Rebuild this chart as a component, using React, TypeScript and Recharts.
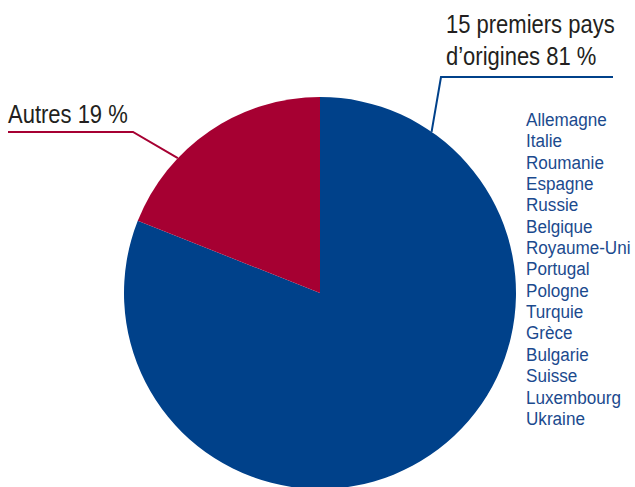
import React from "react";
import { PieChart, Pie, Cell } from "recharts";

const categories = ["15 premiers pays d\u2019origines", "Autres"];
const values = [81, 19];
const labelLines = [["15 premiers pays", "d\u2019origines 81 %"], ["Autres 19 %"]];
const countries = [
  "Allemagne", "Italie", "Roumanie", "Espagne", "Russie", "Belgique", "Royaume-Uni",
  "Portugal", "Pologne", "Turquie", "Gr\u00e8ce", "Bulgarie", "Suisse", "Luxembourg", "Ukraine",
];

const data = categories.map((name, i) => ({ name, value: values[i] }));
const COLORS = ["#00418a", "#a60032"];
const FONT = "'Liberation Sans', Arial, sans-serif";

const RAD = Math.PI / 180;

const Narrow = ({ x, y, sx, children }: any) => (
  <g transform={`translate(${x},${y}) scale(${sx},1)`}>{children}</g>
);

const renderLabel = (props: any) => {
  const { cx, cy, outerRadius, index } = props;
  if (index === 0) {
    const a = 55.3 * RAD;
    const x0 = cx + outerRadius * Math.cos(a);
    const y0 = cy - outerRadius * Math.sin(a);
    const ex = cx + 121, ey = cy - 216;
    return (
      <g>
        <polyline points={`${x0},${y0} ${ex},${ey} ${cx + 293},${ey}`} fill="none" stroke={COLORS[0]} strokeWidth={2} />
        <Narrow x={cx + 126} y={cy - 260} sx={0.88}>
          <text x={0} y={0} fontFamily={FONT} fontSize={25} fill="#231f20">
            <tspan x={0} dy={0}>{labelLines[0][0]}</tspan>
            <tspan x={0} dy={32}>{labelLines[0][1]}</tspan>
          </text>
        </Narrow>
        <Narrow x={cx + 206} y={cy - 167} sx={0.9}>
          <text x={0} y={0} fontFamily={FONT} fontSize={19} fill="#1b4a8e">
            {countries.map((c, i) => (
              <tspan key={c} x={0} dy={i === 0 ? 0 : 21.35}>{c}</tspan>
            ))}
          </text>
        </Narrow>
      </g>
    );
  }
  const a = 136.5 * RAD;
  const x0 = cx + outerRadius * Math.cos(a);
  const y0 = cy - outerRadius * Math.sin(a);
  const ex = cx - 187, ey = cy - 161;
  return (
    <g>
      <polyline points={`${x0},${y0} ${ex},${ey} ${cx - 312},${ey}`} fill="none" stroke={COLORS[1]} strokeWidth={2} />
      <Narrow x={cx - 312} y={cy - 170} sx={0.88}>
        <text x={0} y={0} fontFamily={FONT} fontSize={25} fill="#231f20">
          {labelLines[1][0]}
        </text>
      </Narrow>
    </g>
  );
};

export default function App() {
  return (
    <div style={{ position: "absolute", left: 0, top: 0, width: 635, height: 487, background: "#fff" }}>
      <PieChart width={635} height={487} margin={{ top: 0, right: 0, bottom: 0, left: 0 }}>
        <Pie
          data={data}
          dataKey="value"
          nameKey="name"
          cx={320}
          cy={293}
          outerRadius={196}
          startAngle={90}
          endAngle={-270}
          stroke="none"
          label={renderLabel}
          labelLine={false}
          isAnimationActive={false}
        >
          {data.map((d, i) => (
            <Cell key={d.name} fill={COLORS[i]} />
          ))}
        </Pie>
      </PieChart>
    </div>
  );
}
